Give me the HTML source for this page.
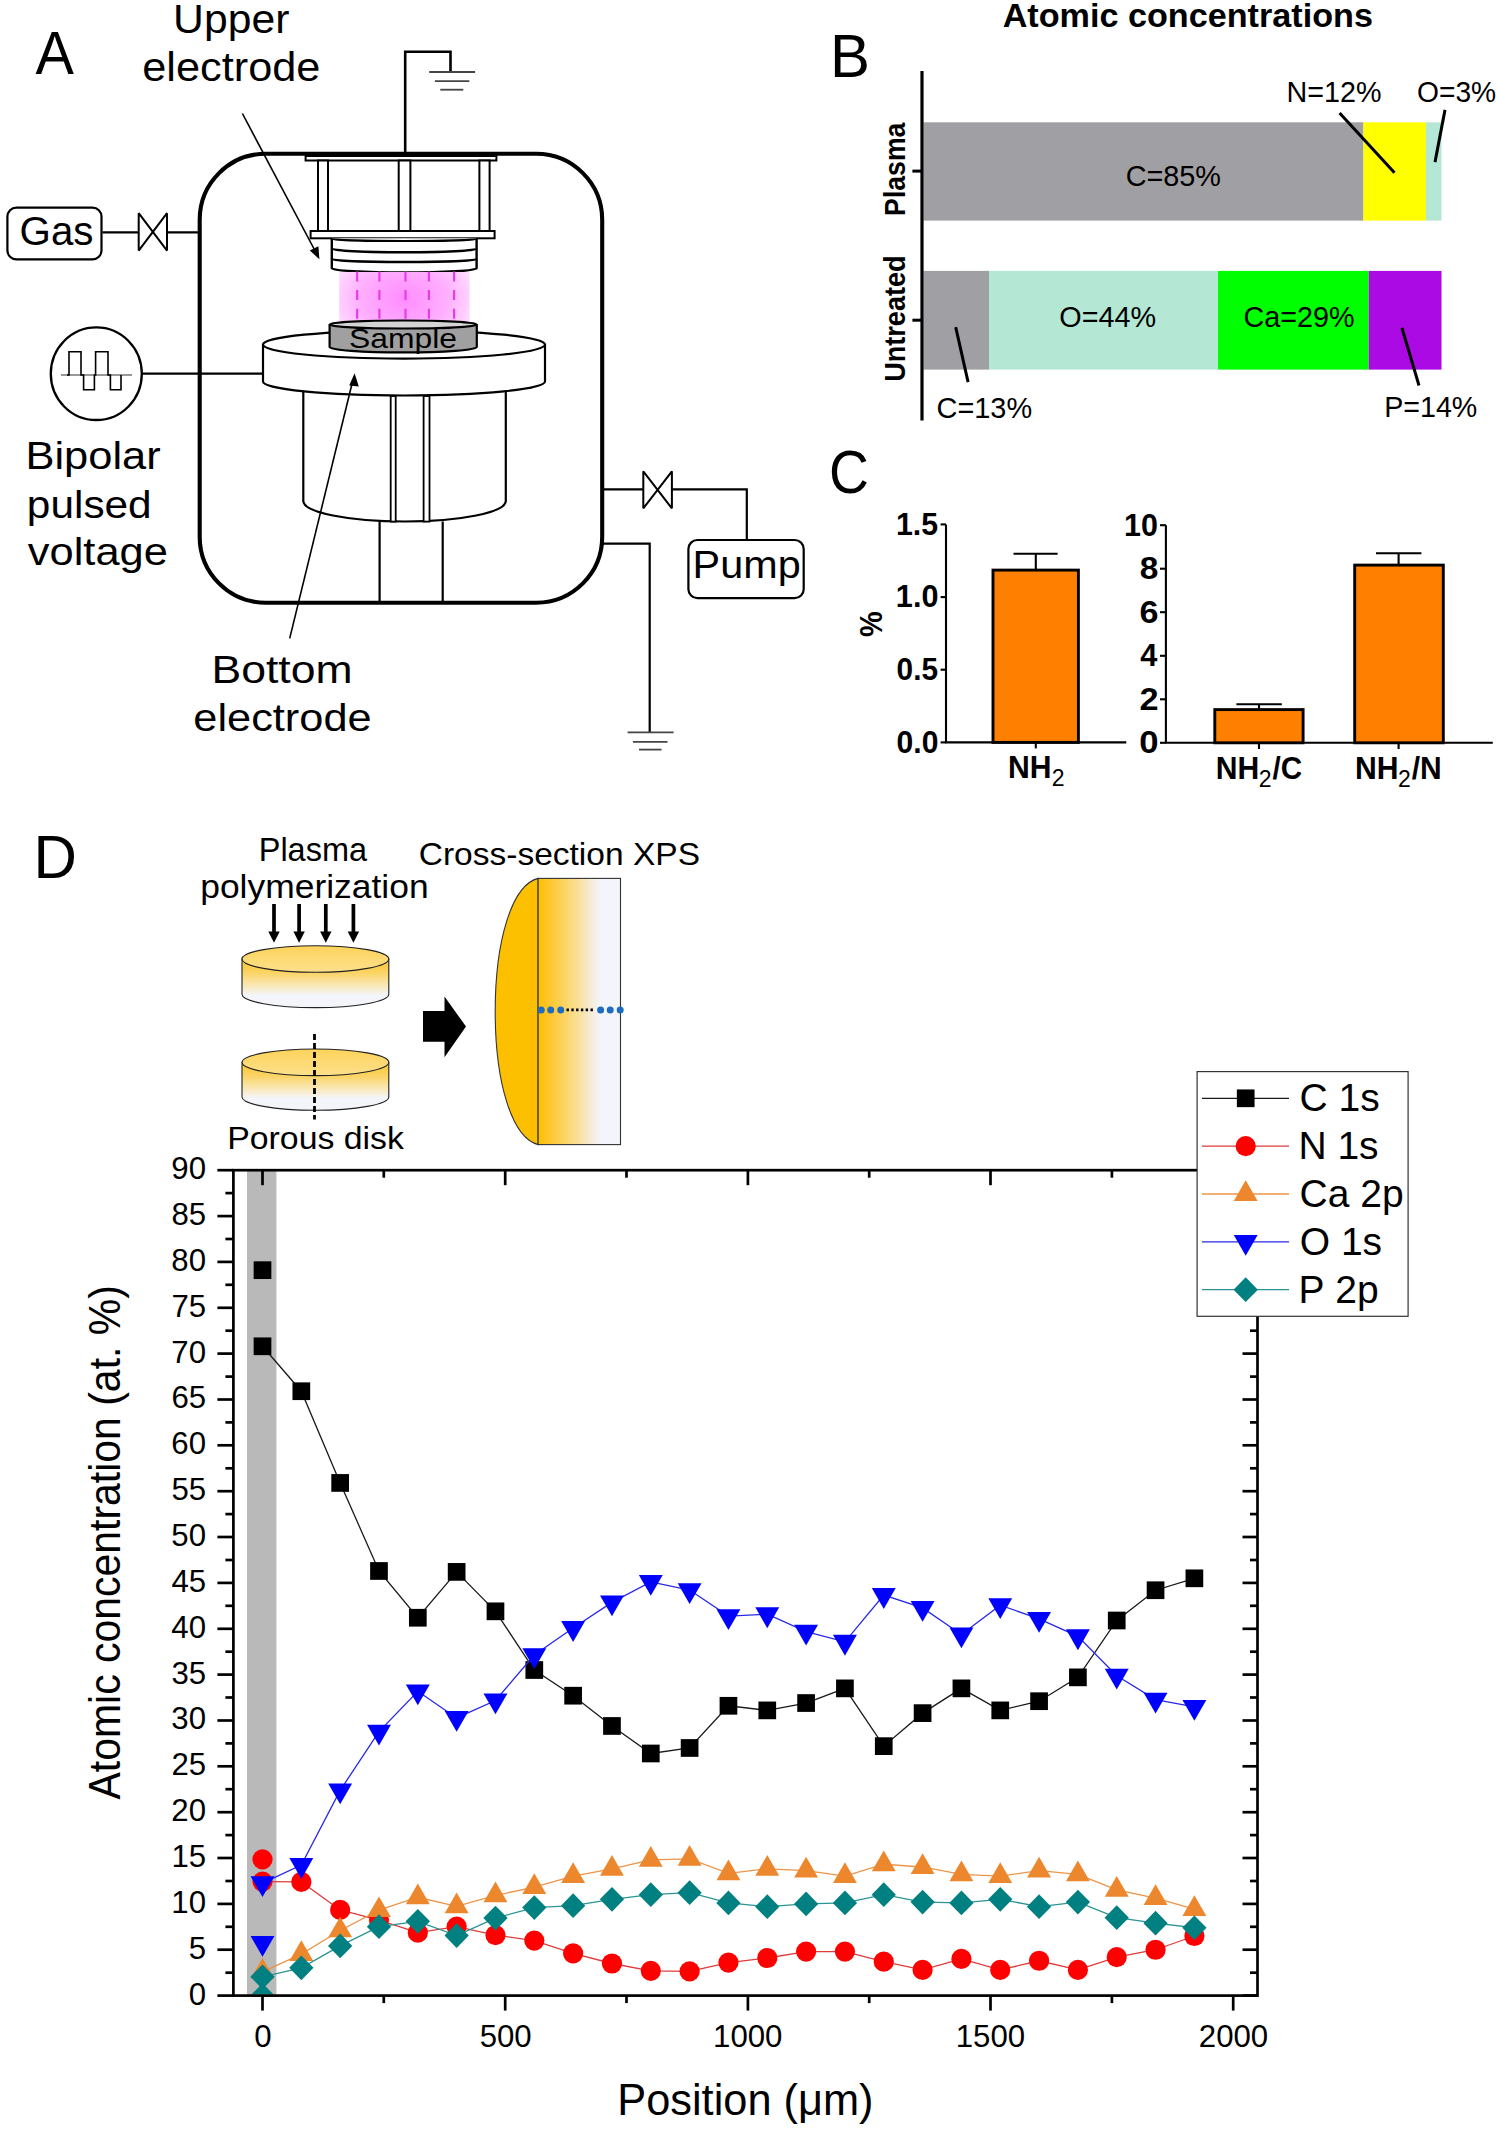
<!DOCTYPE html><html><head><meta charset="utf-8"><style>html,body{margin:0;padding:0;background:#fff;overflow:hidden;}svg{display:block;} text{font-kerning:none;}</style></head><body>
<svg width="1499" height="2131" viewBox="0 0 1499 2131">
<defs>
<radialGradient id="plasma" cx="403.7" cy="298.5" r="75" gradientUnits="userSpaceOnUse" gradientTransform="translate(403.7 298.5) scale(1 0.75) translate(-403.7 -298.5)">
<stop offset="0" stop-color="#ff8cff"/><stop offset="0.6" stop-color="#ffb0ff"/><stop offset="1" stop-color="#ffe0ff"/></radialGradient>
<linearGradient id="diskside" x1="0" y1="0" x2="0" y2="1">
<stop offset="0" stop-color="#fbc52a"/><stop offset="0.3" stop-color="#fbd56a"/><stop offset="0.55" stop-color="#f9e8b8"/><stop offset="0.75" stop-color="#f4f5fa"/><stop offset="1" stop-color="#f4f5fa"/></linearGradient>
<linearGradient id="disktop" x1="0" y1="0" x2="0" y2="1">
<stop offset="0" stop-color="#fcd35a"/><stop offset="1" stop-color="#fde08c"/></linearGradient>
<linearGradient id="xsec" x1="0" y1="0" x2="1" y2="0">
<stop offset="0" stop-color="#fdc000"/><stop offset="0.12" stop-color="#fdc52a"/><stop offset="0.3" stop-color="#fbd35c"/><stop offset="0.5" stop-color="#f8e19c"/><stop offset="0.62" stop-color="#f6ead0"/><stop offset="0.75" stop-color="#f4f5fa"/><stop offset="1" stop-color="#f4f5fa"/></linearGradient>
<clipPath id="plotclip"><rect x="234.7" y="1171.5" width="1021.5" height="822.8"/></clipPath>
</defs>
<text x="0" y="0" font-size="61.05" font-weight="400" fill="#000" font-family="'Liberation Sans', sans-serif" transform="translate(35.49 74.00) scale(0.9437 1)">A</text>
<text x="0" y="0" font-size="40.12" font-weight="400" fill="#000" font-family="'Liberation Sans', sans-serif" transform="translate(173.11 33.10) scale(1.0644 1)">Upper</text>
<text x="0" y="0" font-size="40.12" font-weight="400" fill="#000" font-family="'Liberation Sans', sans-serif" transform="translate(142.26 80.90) scale(1.0796 1)">electrode</text>
<path d="M405.2,153 V51.7 H450.5 V72" fill="none" stroke="#000" stroke-width="2.6"/>
<line x1="429.2" y1="72.0" x2="475.1" y2="72.0" stroke="#444" stroke-width="1.8" />
<line x1="434.9" y1="81.1" x2="469.3" y2="81.1" stroke="#444" stroke-width="1.8" />
<line x1="440.3" y1="89.7" x2="463.3" y2="89.7" stroke="#444" stroke-width="1.8" />
<rect x="7.4" y="207.6" width="94.1" height="51.8" rx="9" ry="9" fill="#fff" stroke="#000" stroke-width="2.2"/>
<text x="0" y="0" font-size="39.83" font-weight="400" fill="#000" font-family="'Liberation Sans', sans-serif" transform="translate(19.57 245.00) scale(1.0115 1)">Gas</text>
<line x1="102.5" y1="232.4" x2="138.7" y2="232.4" stroke="#000" stroke-width="2.2" />
<path d="M138.7,213.2 L167,250.6 L167,213.2 L138.7,250.6 Z" fill="#fff" stroke="#000" stroke-width="2" stroke-linejoin="bevel"/>
<line x1="167.0" y1="232.4" x2="200.0" y2="232.4" stroke="#000" stroke-width="2.2" />
<ellipse cx="96.3" cy="373.7" rx="45.5" ry="46.3" fill="#fff" stroke="#000" stroke-width="2.3"/>
<line x1="61.0" y1="375.0" x2="132.0" y2="375.0" stroke="#333" stroke-width="1.2" />
<path d="M67,375 H69 V351.7 H81 V375 H83.6 V389.7 H94.4 V375 H95.6 V351.7 H108 V375 H110.4 V389.7 H121 V375" fill="none" stroke="#000" stroke-width="1.6"/>
<line x1="141.0" y1="373.7" x2="264.0" y2="373.7" stroke="#000" stroke-width="2.2" />
<text x="0" y="0" font-size="39.68" font-weight="400" fill="#000" font-family="'Liberation Sans', sans-serif" transform="translate(25.43 469.10) scale(1.0953 1)">Bipolar</text>
<text x="0" y="0" font-size="39.68" font-weight="400" fill="#000" font-family="'Liberation Sans', sans-serif" transform="translate(26.87 518.20) scale(1.0678 1)">pulsed</text>
<text x="0" y="0" font-size="39.68" font-weight="400" fill="#000" font-family="'Liberation Sans', sans-serif" transform="translate(27.85 565.20) scale(1.0948 1)">voltage</text>
<line x1="602.0" y1="489.4" x2="643.3" y2="489.4" stroke="#000" stroke-width="2.2" />
<path d="M643.3,471.3 L671.9,508.3 L671.9,471.3 L643.3,508.3 Z" fill="#fff" stroke="#000" stroke-width="2" stroke-linejoin="bevel"/>
<path d="M671.9,489.4 H746.8 V540" fill="none" stroke="#000" stroke-width="2.2"/>
<rect x="688.4" y="540" width="115.3" height="58.2" rx="9" ry="9" fill="#fff" stroke="#000" stroke-width="2.2"/>
<text x="0" y="0" font-size="39.53" font-weight="400" fill="#000" font-family="'Liberation Sans', sans-serif" transform="translate(692.60 578.20) scale(1.0470 1)">Pump</text>
<path d="M602,543.7 H649.7 V732.3" fill="none" stroke="#000" stroke-width="2.2"/>
<line x1="627.6" y1="732.3" x2="673.6" y2="732.3" stroke="#444" stroke-width="1.8" />
<line x1="632.9" y1="741.8" x2="667.5" y2="741.8" stroke="#444" stroke-width="1.8" />
<line x1="639.0" y1="749.6" x2="661.5" y2="749.6" stroke="#444" stroke-width="1.8" />
<rect x="199.7" y="153.8" width="402.5" height="448.9" rx="66" ry="66" fill="none" stroke="#000" stroke-width="4.1"/>
<rect x="305.6" y="156" width="190.8" height="4.5" fill="#fff" stroke="#000" stroke-width="2"/>
<rect x="318" y="160.5" width="10.0" height="70.5" fill="#fff" stroke="#000" stroke-width="2"/>
<rect x="398.7" y="160.5" width="11.7" height="70.5" fill="#fff" stroke="#000" stroke-width="2"/>
<rect x="479.4" y="160.5" width="10.2" height="70.5" fill="#fff" stroke="#000" stroke-width="2"/>
<rect x="310.6" y="231" width="184" height="7.3" fill="#fff" stroke="#000" stroke-width="2"/>
<path d="M331.8,238.3 V268.3 A72.4,4.2 0 0 0 476.6,268.3 V238.3" fill="#fff" stroke="#000" stroke-width="2.4"/>
<path d="M332,238.9 A72.3,2.1 0 0 0 476.6,238.9" fill="none" stroke="#000" stroke-width="2.2"/>
<path d="M332,248.7 A72.3,3.5 0 0 0 476.6,248.7" fill="none" stroke="#000" stroke-width="2.4"/>
<path d="M332,259.2 A72.3,2.8 0 0 0 476.6,259.2" fill="none" stroke="#000" stroke-width="2.4"/>
<rect x="339.2" y="272" width="130.3" height="49" fill="url(#plasma)"/>
<line x1="357.2" y1="271.5" x2="357.2" y2="321.0" stroke="#e63ce6" stroke-width="2.2" stroke-dasharray="10 8.6"/>
<line x1="379.4" y1="271.5" x2="379.4" y2="321.0" stroke="#e63ce6" stroke-width="2.2" stroke-dasharray="10 8.6"/>
<line x1="405.5" y1="271.5" x2="405.5" y2="321.0" stroke="#e63ce6" stroke-width="2.2" stroke-dasharray="10 8.6"/>
<line x1="428.9" y1="271.5" x2="428.9" y2="321.0" stroke="#e63ce6" stroke-width="2.2" stroke-dasharray="10 8.6"/>
<line x1="454.1" y1="271.5" x2="454.1" y2="321.0" stroke="#e63ce6" stroke-width="2.2" stroke-dasharray="10 8.6"/>
<path d="M303.3,390 V501 A101.25,20.5 0 0 0 505.8,501 V390" fill="#fff" stroke="#000" stroke-width="2.2"/>
<rect x="390.7" y="396" width="5.0" height="125.6" fill="#fff" stroke="#000" stroke-width="1.8"/>
<rect x="423.6" y="396" width="5.9" height="125.6" fill="#fff" stroke="#000" stroke-width="1.8"/>
<line x1="379.6" y1="521.5" x2="379.6" y2="604.0" stroke="#000" stroke-width="2.2" />
<line x1="442.7" y1="521.5" x2="442.7" y2="604.0" stroke="#000" stroke-width="2.2" />
<path d="M263,344.6 V381.5 A141,14 0 0 0 545,381.5 V344.6" fill="#fff" stroke="#000" stroke-width="2.2"/>
<ellipse cx="404" cy="344.6" rx="141" ry="14" fill="#fff" stroke="#000" stroke-width="2.2"/>
<path d="M329.6,324.5 V347 A73.6,5.4 0 0 0 476.8,347 V324.5" fill="#a0a0a0" stroke="#000" stroke-width="2.2"/>
<ellipse cx="403.2" cy="324.5" rx="73.6" ry="4" fill="#d4d4d4" stroke="#000" stroke-width="2.2"/>
<text x="0" y="0" font-size="27.91" font-weight="400" fill="#000" font-family="'Liberation Sans', sans-serif" transform="translate(348.95 347.80) scale(1.1410 1)">Sample</text>
<line x1="242.4" y1="113.5" x2="316.5" y2="253.5" stroke="#000" stroke-width="1.6" />
<path d="M319.4,259.2 L309.8,250.6 L318.4,246.2 Z" fill="#000"/>
<line x1="289.7" y1="638.4" x2="352.8" y2="380.5" stroke="#000" stroke-width="1.6" />
<path d="M354.6,373.3 L349.2,385.5 L358.8,386.6 Z" fill="#000"/>
<text x="0" y="0" font-size="39.68" font-weight="400" fill="#000" font-family="'Liberation Sans', sans-serif" transform="translate(211.55 682.50) scale(1.1224 1)">Bottom</text>
<text x="0" y="0" font-size="39.68" font-weight="400" fill="#000" font-family="'Liberation Sans', sans-serif" transform="translate(193.36 730.50) scale(1.0921 1)">electrode</text>
<text x="0" y="0" font-size="32.99" font-weight="700" fill="#000" font-family="'Liberation Sans', sans-serif" transform="translate(1002.65 27.20) scale(1.0363 1)">Atomic concentrations</text>
<text x="0" y="0" font-size="61.77" font-weight="400" fill="#000" font-family="'Liberation Sans', sans-serif" transform="translate(830.08 76.50) scale(0.9703 1)">B</text>
<rect x="923.5" y="122.3" width="440" height="98.3" fill="#a09fa4"/>
<rect x="1363.4" y="122.3" width="62.5" height="98.3" fill="#ffff00"/>
<rect x="1425.9" y="122.3" width="15.6" height="98.3" fill="#b4e8d4"/>
<rect x="923.5" y="270.9" width="65.5" height="98.7" fill="#a09fa4"/>
<rect x="989" y="270.9" width="229" height="98.7" fill="#b4e8d4"/>
<rect x="1218" y="270.9" width="150.8" height="98.7" fill="#00ff00"/>
<rect x="1368.8" y="270.9" width="72.7" height="98.7" fill="#ab0ae4"/>
<line x1="922.0" y1="71.0" x2="922.0" y2="420.4" stroke="#000" stroke-width="3.2" />
<line x1="912.4" y1="171.1" x2="922.0" y2="171.1" stroke="#000" stroke-width="3" />
<line x1="912.4" y1="320.2" x2="922.0" y2="320.2" stroke="#000" stroke-width="3" />
<text x="0" y="0" font-size="29.07" font-weight="700" fill="#000" font-family="'Liberation Sans', sans-serif" transform="translate(905.00 215.88) rotate(-90) scale(0.9165 1)">Plasma</text>
<text x="0" y="0" font-size="29.07" font-weight="700" fill="#000" font-family="'Liberation Sans', sans-serif" transform="translate(905.00 381.83) rotate(-90) scale(0.9324 1)">Untreated</text>
<text x="0" y="0" font-size="29.36" font-weight="400" fill="#000" font-family="'Liberation Sans', sans-serif" transform="translate(1125.64 185.70) scale(0.9823 1)">C=85%</text>
<text x="0" y="0" font-size="29.07" font-weight="400" fill="#000" font-family="'Liberation Sans', sans-serif" transform="translate(1286.44 101.90) scale(0.9889 1)">N=12%</text>
<text x="0" y="0" font-size="29.07" font-weight="400" fill="#000" font-family="'Liberation Sans', sans-serif" transform="translate(1417.06 101.90) scale(0.9698 1)">O=3%</text>
<text x="0" y="0" font-size="29.07" font-weight="400" fill="#000" font-family="'Liberation Sans', sans-serif" transform="translate(1059.34 327.20) scale(0.9910 1)">O=44%</text>
<text x="0" y="0" font-size="29.07" font-weight="400" fill="#000" font-family="'Liberation Sans', sans-serif" transform="translate(1243.44 326.60) scale(0.9899 1)">Ca=29%</text>
<text x="0" y="0" font-size="29.07" font-weight="400" fill="#000" font-family="'Liberation Sans', sans-serif" transform="translate(936.53 418.20) scale(0.9942 1)">C=13%</text>
<text x="0" y="0" font-size="29.07" font-weight="400" fill="#000" font-family="'Liberation Sans', sans-serif" transform="translate(1384.15 417.40) scale(0.9854 1)">P=14%</text>
<line x1="1339.6" y1="112.9" x2="1394.5" y2="172.7" stroke="#000" stroke-width="3" />
<line x1="1445.0" y1="109.9" x2="1435.0" y2="162.1" stroke="#000" stroke-width="3" />
<line x1="955.7" y1="327.2" x2="968.1" y2="382.2" stroke="#000" stroke-width="3" />
<line x1="1401.9" y1="327.7" x2="1419.0" y2="385.5" stroke="#000" stroke-width="3" />
<text x="0" y="0" font-size="61.63" font-weight="400" fill="#000" font-family="'Liberation Sans', sans-serif" transform="translate(828.99 493.10) scale(0.8968 1)">C</text>
<path d="M946,524.4 V742.4 H1126.3" fill="none" stroke="#000" stroke-width="2.1"/>
<line x1="940.6" y1="524.4" x2="946.0" y2="524.4" stroke="#000" stroke-width="2.1" />
<line x1="940.6" y1="597.1" x2="946.0" y2="597.1" stroke="#000" stroke-width="2.1" />
<line x1="940.6" y1="669.7" x2="946.0" y2="669.7" stroke="#000" stroke-width="2.1" />
<line x1="940.6" y1="742.4" x2="946.0" y2="742.4" stroke="#000" stroke-width="2.1" />
<text x="0" y="0" font-size="31.40" font-weight="700" fill="#000" font-family="'Liberation Sans', sans-serif" transform="translate(895.89 534.60) scale(0.9659 1)">1.5</text>
<text x="0" y="0" font-size="31.40" font-weight="700" fill="#000" font-family="'Liberation Sans', sans-serif" transform="translate(895.87 607.30) scale(0.9758 1)">1.0</text>
<text x="0" y="0" font-size="31.40" font-weight="700" fill="#000" font-family="'Liberation Sans', sans-serif" transform="translate(896.62 679.90) scale(0.9488 1)">0.5</text>
<text x="0" y="0" font-size="31.40" font-weight="700" fill="#000" font-family="'Liberation Sans', sans-serif" transform="translate(896.61 752.60) scale(0.9583 1)">0.0</text>
<rect x="993" y="570.1" width="85.4" height="172.3" fill="#ff8000" stroke="#000" stroke-width="2.9"/>
<line x1="1035.8" y1="570.0" x2="1035.8" y2="553.8" stroke="#000" stroke-width="2.1" />
<line x1="1013.5" y1="553.8" x2="1057.6" y2="553.8" stroke="#000" stroke-width="2.1" />
<line x1="1035.8" y1="742.4" x2="1035.8" y2="748.4" stroke="#000" stroke-width="2.1" />
<text x="0" y="0" font-size="30.96" font-weight="700" fill="#000" font-family="'Liberation Sans', sans-serif" transform="translate(1007.98 778.30) scale(0.9739 1)">NH</text>
<text x="0" y="0" font-size="23.11" font-weight="400" fill="#000" font-family="'Liberation Sans', sans-serif" transform="translate(1051.84 786.20) scale(0.9973 1)">2</text>
<text x="0" y="0" font-size="30.52" font-weight="700" fill="#000" font-family="'Liberation Sans', sans-serif" transform="translate(881.60 637.12) rotate(-90) scale(0.9462 1)">%</text>
<path d="M1165.9,525.2 V742.8 H1492.8" fill="none" stroke="#000" stroke-width="2.1"/>
<line x1="1160.0" y1="525.2" x2="1165.9" y2="525.2" stroke="#000" stroke-width="2.1" />
<text x="0" y="0" font-size="31.40" font-weight="700" fill="#000" font-family="'Liberation Sans', sans-serif" transform="translate(1123.98 535.50) scale(0.9698 1)">10</text>
<line x1="1160.0" y1="568.7" x2="1165.9" y2="568.7" stroke="#000" stroke-width="2.1" />
<text x="0" y="0" font-size="31.40" font-weight="700" fill="#000" font-family="'Liberation Sans', sans-serif" transform="translate(1139.64 579.02) scale(1.0646 1)">8</text>
<line x1="1160.0" y1="612.2" x2="1165.9" y2="612.2" stroke="#000" stroke-width="2.1" />
<text x="0" y="0" font-size="31.40" font-weight="700" fill="#000" font-family="'Liberation Sans', sans-serif" transform="translate(1139.45 622.54) scale(1.0872 1)">6</text>
<line x1="1160.0" y1="655.8" x2="1165.9" y2="655.8" stroke="#000" stroke-width="2.1" />
<text x="0" y="0" font-size="31.40" font-weight="700" fill="#000" font-family="'Liberation Sans', sans-serif" transform="translate(1140.23 666.06) scale(0.9812 1)">4</text>
<line x1="1160.0" y1="699.3" x2="1165.9" y2="699.3" stroke="#000" stroke-width="2.1" />
<text x="0" y="0" font-size="31.40" font-weight="700" fill="#000" font-family="'Liberation Sans', sans-serif" transform="translate(1139.51 709.58) scale(1.0916 1)">2</text>
<line x1="1160.0" y1="742.8" x2="1165.9" y2="742.8" stroke="#000" stroke-width="2.1" />
<text x="0" y="0" font-size="31.40" font-weight="700" fill="#000" font-family="'Liberation Sans', sans-serif" transform="translate(1139.33 753.10) scale(1.1051 1)">0</text>
<rect x="1214.8" y="709.6" width="88.3" height="33.2" fill="#ff8000" stroke="#000" stroke-width="2.9"/>
<line x1="1259.0" y1="709.6" x2="1259.0" y2="704.2" stroke="#000" stroke-width="2.1" />
<line x1="1236.4" y1="704.2" x2="1281.8" y2="704.2" stroke="#000" stroke-width="2.1" />
<rect x="1354.7" y="565.1" width="88.6" height="177.7" fill="#ff8000" stroke="#000" stroke-width="2.9"/>
<line x1="1398.6" y1="565.0" x2="1398.6" y2="553.2" stroke="#000" stroke-width="2.1" />
<line x1="1376.0" y1="553.2" x2="1421.4" y2="553.2" stroke="#000" stroke-width="2.1" />
<line x1="1259.0" y1="742.8" x2="1259.0" y2="749.0" stroke="#000" stroke-width="2.1" />
<line x1="1398.6" y1="742.8" x2="1398.6" y2="749.0" stroke="#000" stroke-width="2.1" />
<text x="0" y="0" font-size="30.96" font-weight="700" fill="#000" font-family="'Liberation Sans', sans-serif" transform="translate(1215.68 779.30) scale(0.9739 1)">NH</text>
<text x="0" y="0" font-size="23.11" font-weight="400" fill="#000" font-family="'Liberation Sans', sans-serif" transform="translate(1258.64 787.20) scale(0.9973 1)">2</text>
<text x="0" y="0" font-size="30.96" font-weight="700" fill="#000" font-family="'Liberation Sans', sans-serif" transform="translate(1272.51 779.30) scale(0.9560 1)">/C</text>
<text x="0" y="0" font-size="30.96" font-weight="700" fill="#000" font-family="'Liberation Sans', sans-serif" transform="translate(1354.98 779.30) scale(0.9739 1)">NH</text>
<text x="0" y="0" font-size="23.11" font-weight="400" fill="#000" font-family="'Liberation Sans', sans-serif" transform="translate(1398.04 787.20) scale(0.9973 1)">2</text>
<text x="0" y="0" font-size="30.96" font-weight="700" fill="#000" font-family="'Liberation Sans', sans-serif" transform="translate(1411.71 779.30) scale(0.9695 1)">/N</text>
<text x="0" y="0" font-size="61.05" font-weight="400" fill="#000" font-family="'Liberation Sans', sans-serif" transform="translate(33.47 878.20) scale(0.9846 1)">D</text>
<text x="0" y="0" font-size="32.85" font-weight="400" fill="#000" font-family="'Liberation Sans', sans-serif" transform="translate(258.73 860.90) scale(0.9893 1)">Plasma</text>
<text x="0" y="0" font-size="32.85" font-weight="400" fill="#000" font-family="'Liberation Sans', sans-serif" transform="translate(200.21 898.40) scale(1.0793 1)">polymerization</text>
<text x="0" y="0" font-size="31.98" font-weight="400" fill="#000" font-family="'Liberation Sans', sans-serif" transform="translate(418.70 865.40) scale(1.0488 1)">Cross-section XPS</text>
<text x="0" y="0" font-size="31.98" font-weight="400" fill="#000" font-family="'Liberation Sans', sans-serif" transform="translate(227.22 1149.00) scale(1.0584 1)">Porous disk</text>
<rect x="272.15" y="904" width="3.7" height="28" fill="#000"/>
<path d="M268.30,931.4 L279.70,931.4 L274.00,942.7 Z" fill="#000"/>
<rect x="297.25" y="904" width="3.7" height="28" fill="#000"/>
<path d="M293.40,931.4 L304.80,931.4 L299.10,942.7 Z" fill="#000"/>
<rect x="323.95" y="904" width="3.7" height="28" fill="#000"/>
<path d="M320.10,931.4 L331.50,931.4 L325.80,942.7 Z" fill="#000"/>
<rect x="351.55" y="904" width="3.7" height="28" fill="#000"/>
<path d="M347.70,931.4 L359.10,931.4 L353.40,942.7 Z" fill="#000"/>
<path d="M242.0,959.0 V994.3 A73.4,13.3 0 0 0 388.8,994.3 V959.0 Z" fill="url(#diskside)" stroke="#222" stroke-width="1.1"/>
<ellipse cx="315.4" cy="959" rx="73.4" ry="13.3" fill="url(#disktop)" stroke="#222" stroke-width="1.1"/>
<path d="M242.0,1062.3 V1097.0 A73.4,13.3 0 0 0 388.8,1097.0 V1062.3 Z" fill="url(#diskside)" stroke="#222" stroke-width="1.1"/>
<ellipse cx="315.4" cy="1062.3" rx="73.4" ry="13.3" fill="url(#disktop)" stroke="#222" stroke-width="1.1"/>
<line x1="314.5" y1="1034.1" x2="314.5" y2="1119.5" stroke="#000" stroke-width="2.8" stroke-dasharray="6 3"/>
<path d="M423,1011.1 H444.5 V996.6 L466,1026.5 L444.5,1057.2 V1041.8 H423 Z" fill="#000"/>
<path d="M538.1,878.4 C512,885 495.2,940 495.2,1011.5 C495.2,1083 512,1138 538.1,1144.6 Z" fill="#fdc000" stroke="#333" stroke-width="1.1"/>
<rect x="538.1" y="878.4" width="82.4" height="266.2" fill="url(#xsec)" stroke="#333" stroke-width="1.1"/>
<line x1="566.5" y1="1009.9" x2="593.0" y2="1009.9" stroke="#000" stroke-width="2.6" stroke-dasharray="2.4 2.4"/>
<circle cx="541.2" cy="1009.9" r="3.5" fill="#1e6bc0"/>
<circle cx="550.7" cy="1009.9" r="3.5" fill="#1e6bc0"/>
<circle cx="560.7" cy="1009.9" r="3.5" fill="#1e6bc0"/>
<circle cx="600.6" cy="1009.9" r="3.5" fill="#1e6bc0"/>
<circle cx="610.2" cy="1009.9" r="3.5" fill="#1e6bc0"/>
<circle cx="620.2" cy="1009.9" r="3.5" fill="#1e6bc0"/>
<rect x="247" y="1170.2" width="29.4" height="825.4" fill="#b9b9b9"/>
<g clip-path="url(#plotclip)">
<polyline points="262.50,1346.29 301.33,1391.22 340.16,1482.93 378.99,1570.98 417.82,1617.75 456.64,1571.89 495.47,1611.33 534.30,1670.03 573.13,1695.70 611.96,1725.97 650.79,1753.48 689.62,1747.98 728.45,1705.79 767.27,1710.38 806.10,1703.04 844.93,1688.37 883.76,1746.15 922.59,1713.13 961.42,1688.37 1000.25,1710.38 1039.08,1701.21 1077.90,1677.36 1116.73,1620.50 1155.56,1590.24 1194.39,1578.31" fill="none" stroke="#1a1a1a" stroke-width="1.3"/>
<rect x="253.65" y="1337.44" width="17.7" height="17.7" fill="#000000"/>
<rect x="292.48" y="1382.37" width="17.7" height="17.7" fill="#000000"/>
<rect x="331.31" y="1474.08" width="17.7" height="17.7" fill="#000000"/>
<rect x="370.14" y="1562.13" width="17.7" height="17.7" fill="#000000"/>
<rect x="408.97" y="1608.90" width="17.7" height="17.7" fill="#000000"/>
<rect x="447.79" y="1563.04" width="17.7" height="17.7" fill="#000000"/>
<rect x="486.62" y="1602.48" width="17.7" height="17.7" fill="#000000"/>
<rect x="525.45" y="1661.18" width="17.7" height="17.7" fill="#000000"/>
<rect x="564.28" y="1686.85" width="17.7" height="17.7" fill="#000000"/>
<rect x="603.11" y="1717.12" width="17.7" height="17.7" fill="#000000"/>
<rect x="641.94" y="1744.63" width="17.7" height="17.7" fill="#000000"/>
<rect x="680.77" y="1739.13" width="17.7" height="17.7" fill="#000000"/>
<rect x="719.60" y="1696.94" width="17.7" height="17.7" fill="#000000"/>
<rect x="758.42" y="1701.53" width="17.7" height="17.7" fill="#000000"/>
<rect x="797.25" y="1694.19" width="17.7" height="17.7" fill="#000000"/>
<rect x="836.08" y="1679.52" width="17.7" height="17.7" fill="#000000"/>
<rect x="874.91" y="1737.30" width="17.7" height="17.7" fill="#000000"/>
<rect x="913.74" y="1704.28" width="17.7" height="17.7" fill="#000000"/>
<rect x="952.57" y="1679.52" width="17.7" height="17.7" fill="#000000"/>
<rect x="991.40" y="1701.53" width="17.7" height="17.7" fill="#000000"/>
<rect x="1030.23" y="1692.36" width="17.7" height="17.7" fill="#000000"/>
<rect x="1069.05" y="1668.51" width="17.7" height="17.7" fill="#000000"/>
<rect x="1107.88" y="1611.65" width="17.7" height="17.7" fill="#000000"/>
<rect x="1146.71" y="1581.39" width="17.7" height="17.7" fill="#000000"/>
<rect x="1185.54" y="1569.46" width="17.7" height="17.7" fill="#000000"/>
<rect x="253.65" y="1261.32" width="17.7" height="17.7" fill="#000000"/>
<polyline points="262.50,1881.60 301.33,1881.88 340.16,1909.94 378.99,1920.03 417.82,1932.69 456.64,1926.54 495.47,1935.07 534.30,1940.57 573.13,1953.41 611.96,1963.50 650.79,1970.84 689.62,1971.39 728.45,1962.58 767.27,1958.00 806.10,1951.58 844.93,1951.58 883.76,1961.67 922.59,1969.92 961.42,1958.92 1000.25,1969.92 1039.08,1960.75 1077.90,1969.92 1116.73,1957.08 1155.56,1949.74 1194.39,1935.99" fill="none" stroke="#e03a3a" stroke-width="1.3"/>
<circle cx="262.50" cy="1881.60" r="10.1" fill="#ff0000"/>
<circle cx="301.33" cy="1881.88" r="10.1" fill="#ff0000"/>
<circle cx="340.16" cy="1909.94" r="10.1" fill="#ff0000"/>
<circle cx="378.99" cy="1920.03" r="10.1" fill="#ff0000"/>
<circle cx="417.82" cy="1932.69" r="10.1" fill="#ff0000"/>
<circle cx="456.64" cy="1926.54" r="10.1" fill="#ff0000"/>
<circle cx="495.47" cy="1935.07" r="10.1" fill="#ff0000"/>
<circle cx="534.30" cy="1940.57" r="10.1" fill="#ff0000"/>
<circle cx="573.13" cy="1953.41" r="10.1" fill="#ff0000"/>
<circle cx="611.96" cy="1963.50" r="10.1" fill="#ff0000"/>
<circle cx="650.79" cy="1970.84" r="10.1" fill="#ff0000"/>
<circle cx="689.62" cy="1971.39" r="10.1" fill="#ff0000"/>
<circle cx="728.45" cy="1962.58" r="10.1" fill="#ff0000"/>
<circle cx="767.27" cy="1958.00" r="10.1" fill="#ff0000"/>
<circle cx="806.10" cy="1951.58" r="10.1" fill="#ff0000"/>
<circle cx="844.93" cy="1951.58" r="10.1" fill="#ff0000"/>
<circle cx="883.76" cy="1961.67" r="10.1" fill="#ff0000"/>
<circle cx="922.59" cy="1969.92" r="10.1" fill="#ff0000"/>
<circle cx="961.42" cy="1958.92" r="10.1" fill="#ff0000"/>
<circle cx="1000.25" cy="1969.92" r="10.1" fill="#ff0000"/>
<circle cx="1039.08" cy="1960.75" r="10.1" fill="#ff0000"/>
<circle cx="1077.90" cy="1969.92" r="10.1" fill="#ff0000"/>
<circle cx="1116.73" cy="1957.08" r="10.1" fill="#ff0000"/>
<circle cx="1155.56" cy="1949.74" r="10.1" fill="#ff0000"/>
<circle cx="1194.39" cy="1935.99" r="10.1" fill="#ff0000"/>
<circle cx="262.50" cy="1859.41" r="10.1" fill="#ff0000"/>
<polyline points="262.50,1971.81 301.33,1954.11 340.16,1930.45 378.99,1910.18 417.82,1897.25 456.64,1906.42 495.47,1895.41 534.30,1887.16 573.13,1876.16 611.96,1868.82 650.79,1859.83 689.62,1858.82 728.45,1873.40 767.27,1868.82 806.10,1870.65 844.93,1876.16 883.76,1864.23 922.59,1866.98 961.42,1874.32 1000.25,1876.16 1039.08,1870.65 1077.90,1874.32 1116.73,1889.91 1155.56,1898.17 1194.39,1909.17" fill="none" stroke="#ee9448" stroke-width="1.3"/>
<path d="M262.50,1958.01 L274.45,1978.71 L250.55,1978.71 Z" fill="#ed872d"/>
<path d="M301.33,1940.31 L313.28,1961.01 L289.38,1961.01 Z" fill="#ed872d"/>
<path d="M340.16,1916.65 L352.11,1937.35 L328.21,1937.35 Z" fill="#ed872d"/>
<path d="M378.99,1896.38 L390.94,1917.08 L367.04,1917.08 Z" fill="#ed872d"/>
<path d="M417.82,1883.45 L429.77,1904.15 L405.87,1904.15 Z" fill="#ed872d"/>
<path d="M456.64,1892.62 L468.59,1913.32 L444.69,1913.32 Z" fill="#ed872d"/>
<path d="M495.47,1881.61 L507.42,1902.31 L483.52,1902.31 Z" fill="#ed872d"/>
<path d="M534.30,1873.36 L546.25,1894.06 L522.35,1894.06 Z" fill="#ed872d"/>
<path d="M573.13,1862.36 L585.08,1883.06 L561.18,1883.06 Z" fill="#ed872d"/>
<path d="M611.96,1855.02 L623.91,1875.72 L600.01,1875.72 Z" fill="#ed872d"/>
<path d="M650.79,1846.03 L662.74,1866.73 L638.84,1866.73 Z" fill="#ed872d"/>
<path d="M689.62,1845.02 L701.57,1865.72 L677.67,1865.72 Z" fill="#ed872d"/>
<path d="M728.45,1859.60 L740.40,1880.30 L716.50,1880.30 Z" fill="#ed872d"/>
<path d="M767.27,1855.02 L779.22,1875.72 L755.32,1875.72 Z" fill="#ed872d"/>
<path d="M806.10,1856.85 L818.05,1877.55 L794.15,1877.55 Z" fill="#ed872d"/>
<path d="M844.93,1862.36 L856.88,1883.06 L832.98,1883.06 Z" fill="#ed872d"/>
<path d="M883.76,1850.43 L895.71,1871.13 L871.81,1871.13 Z" fill="#ed872d"/>
<path d="M922.59,1853.18 L934.54,1873.88 L910.64,1873.88 Z" fill="#ed872d"/>
<path d="M961.42,1860.52 L973.37,1881.22 L949.47,1881.22 Z" fill="#ed872d"/>
<path d="M1000.25,1862.36 L1012.20,1883.06 L988.30,1883.06 Z" fill="#ed872d"/>
<path d="M1039.08,1856.85 L1051.03,1877.55 L1027.13,1877.55 Z" fill="#ed872d"/>
<path d="M1077.90,1860.52 L1089.85,1881.22 L1065.95,1881.22 Z" fill="#ed872d"/>
<path d="M1116.73,1876.11 L1128.68,1896.81 L1104.78,1896.81 Z" fill="#ed872d"/>
<path d="M1155.56,1884.37 L1167.51,1905.07 L1143.61,1905.07 Z" fill="#ed872d"/>
<path d="M1194.39,1895.37 L1206.34,1916.07 L1182.44,1916.07 Z" fill="#ed872d"/>
<polyline points="262.50,1883.18 301.33,1865.02 340.16,1790.37 378.99,1731.67 417.82,1691.32 456.64,1717.92 495.47,1700.49 534.30,1655.09 573.13,1628.04 611.96,1602.36 650.79,1581.82 689.62,1590.07 728.45,1616.12 767.27,1614.28 806.10,1631.71 844.93,1641.80 883.76,1595.02 922.59,1607.86 961.42,1634.46 1000.25,1605.11 1039.08,1618.87 1077.90,1636.29 1116.73,1675.73 1155.56,1699.57 1194.39,1706.91" fill="none" stroke="#2828e8" stroke-width="1.3"/>
<path d="M250.55,1876.25 L274.45,1876.25 L262.50,1897.05 Z" fill="#0000ff"/>
<path d="M289.38,1858.09 L313.28,1858.09 L301.33,1878.89 Z" fill="#0000ff"/>
<path d="M328.21,1783.44 L352.11,1783.44 L340.16,1804.24 Z" fill="#0000ff"/>
<path d="M367.04,1724.74 L390.94,1724.74 L378.99,1745.54 Z" fill="#0000ff"/>
<path d="M405.87,1684.39 L429.77,1684.39 L417.82,1705.19 Z" fill="#0000ff"/>
<path d="M444.69,1710.98 L468.59,1710.98 L456.64,1731.78 Z" fill="#0000ff"/>
<path d="M483.52,1693.56 L507.42,1693.56 L495.47,1714.36 Z" fill="#0000ff"/>
<path d="M522.35,1648.16 L546.25,1648.16 L534.30,1668.96 Z" fill="#0000ff"/>
<path d="M561.18,1621.11 L585.08,1621.11 L573.13,1641.91 Z" fill="#0000ff"/>
<path d="M600.01,1595.43 L623.91,1595.43 L611.96,1616.23 Z" fill="#0000ff"/>
<path d="M638.84,1574.88 L662.74,1574.88 L650.79,1595.68 Z" fill="#0000ff"/>
<path d="M677.67,1583.14 L701.57,1583.14 L689.62,1603.94 Z" fill="#0000ff"/>
<path d="M716.50,1609.18 L740.40,1609.18 L728.45,1629.98 Z" fill="#0000ff"/>
<path d="M755.32,1607.35 L779.22,1607.35 L767.27,1628.15 Z" fill="#0000ff"/>
<path d="M794.15,1624.78 L818.05,1624.78 L806.10,1645.58 Z" fill="#0000ff"/>
<path d="M832.98,1634.86 L856.88,1634.86 L844.93,1655.66 Z" fill="#0000ff"/>
<path d="M871.81,1588.09 L895.71,1588.09 L883.76,1608.89 Z" fill="#0000ff"/>
<path d="M910.64,1600.93 L934.54,1600.93 L922.59,1621.73 Z" fill="#0000ff"/>
<path d="M949.47,1627.53 L973.37,1627.53 L961.42,1648.33 Z" fill="#0000ff"/>
<path d="M988.30,1598.18 L1012.20,1598.18 L1000.25,1618.98 Z" fill="#0000ff"/>
<path d="M1027.13,1611.94 L1051.03,1611.94 L1039.08,1632.74 Z" fill="#0000ff"/>
<path d="M1065.95,1629.36 L1089.85,1629.36 L1077.90,1650.16 Z" fill="#0000ff"/>
<path d="M1104.78,1668.80 L1128.68,1668.80 L1116.73,1689.60 Z" fill="#0000ff"/>
<path d="M1143.61,1692.64 L1167.51,1692.64 L1155.56,1713.44 Z" fill="#0000ff"/>
<path d="M1182.44,1699.98 L1206.34,1699.98 L1194.39,1720.78 Z" fill="#0000ff"/>
<path d="M250.55,1936.04 L274.45,1936.04 L262.50,1956.84 Z" fill="#0000ff"/>
<polyline points="262.50,1976.80 301.33,1967.81 340.16,1945.89 378.99,1926.72 417.82,1921.31 456.64,1935.53 495.47,1918.10 534.30,1907.56 573.13,1905.72 611.96,1899.30 650.79,1894.63 689.62,1892.70 728.45,1902.97 767.27,1906.64 806.10,1903.89 844.93,1902.97 883.76,1894.72 922.59,1902.05 961.42,1902.97 1000.25,1899.30 1039.08,1906.64 1077.90,1902.05 1116.73,1917.65 1155.56,1923.15 1194.39,1927.73" fill="none" stroke="#2a9494" stroke-width="1.3"/>
<path d="M262.50,1964.45 L274.65,1976.80 L262.50,1989.15 L250.35,1976.80 Z" fill="#008080"/>
<path d="M301.33,1955.46 L313.48,1967.81 L301.33,1980.16 L289.18,1967.81 Z" fill="#008080"/>
<path d="M340.16,1933.54 L352.31,1945.89 L340.16,1958.24 L328.01,1945.89 Z" fill="#008080"/>
<path d="M378.99,1914.37 L391.14,1926.72 L378.99,1939.07 L366.84,1926.72 Z" fill="#008080"/>
<path d="M417.82,1908.96 L429.97,1921.31 L417.82,1933.66 L405.67,1921.31 Z" fill="#008080"/>
<path d="M456.64,1923.18 L468.79,1935.53 L456.64,1947.88 L444.49,1935.53 Z" fill="#008080"/>
<path d="M495.47,1905.75 L507.62,1918.10 L495.47,1930.45 L483.32,1918.10 Z" fill="#008080"/>
<path d="M534.30,1895.21 L546.45,1907.56 L534.30,1919.91 L522.15,1907.56 Z" fill="#008080"/>
<path d="M573.13,1893.37 L585.28,1905.72 L573.13,1918.07 L560.98,1905.72 Z" fill="#008080"/>
<path d="M611.96,1886.95 L624.11,1899.30 L611.96,1911.65 L599.81,1899.30 Z" fill="#008080"/>
<path d="M650.79,1882.28 L662.94,1894.63 L650.79,1906.98 L638.64,1894.63 Z" fill="#008080"/>
<path d="M689.62,1880.35 L701.77,1892.70 L689.62,1905.05 L677.47,1892.70 Z" fill="#008080"/>
<path d="M728.45,1890.62 L740.60,1902.97 L728.45,1915.32 L716.30,1902.97 Z" fill="#008080"/>
<path d="M767.27,1894.29 L779.42,1906.64 L767.27,1918.99 L755.12,1906.64 Z" fill="#008080"/>
<path d="M806.10,1891.54 L818.25,1903.89 L806.10,1916.24 L793.95,1903.89 Z" fill="#008080"/>
<path d="M844.93,1890.62 L857.08,1902.97 L844.93,1915.32 L832.78,1902.97 Z" fill="#008080"/>
<path d="M883.76,1882.37 L895.91,1894.72 L883.76,1907.07 L871.61,1894.72 Z" fill="#008080"/>
<path d="M922.59,1889.70 L934.74,1902.05 L922.59,1914.40 L910.44,1902.05 Z" fill="#008080"/>
<path d="M961.42,1890.62 L973.57,1902.97 L961.42,1915.32 L949.27,1902.97 Z" fill="#008080"/>
<path d="M1000.25,1886.95 L1012.40,1899.30 L1000.25,1911.65 L988.10,1899.30 Z" fill="#008080"/>
<path d="M1039.08,1894.29 L1051.23,1906.64 L1039.08,1918.99 L1026.93,1906.64 Z" fill="#008080"/>
<path d="M1077.90,1889.70 L1090.05,1902.05 L1077.90,1914.40 L1065.75,1902.05 Z" fill="#008080"/>
<path d="M1116.73,1905.30 L1128.88,1917.65 L1116.73,1930.00 L1104.58,1917.65 Z" fill="#008080"/>
<path d="M1155.56,1910.80 L1167.71,1923.15 L1155.56,1935.50 L1143.41,1923.15 Z" fill="#008080"/>
<path d="M1194.39,1915.38 L1206.54,1927.73 L1194.39,1940.08 L1182.24,1927.73 Z" fill="#008080"/>
<path d="M262.50,1983.25 L274.65,1995.60 L262.50,2007.95 L250.35,1995.60 Z" fill="#008080"/>
</g>
<rect x="233.4" y="1170.2" width="1024.1" height="825.4" fill="none" stroke="#000" stroke-width="2.7"/>
<line x1="217.4" y1="1995.6" x2="233.4" y2="1995.6" stroke="#000" stroke-width="2.7" />
<line x1="1242.5" y1="1995.6" x2="1257.5" y2="1995.6" stroke="#000" stroke-width="2.7" />
<text x="0" y="0" font-size="31.20" font-weight="400" fill="#000" font-family="'Liberation Sans', sans-serif" transform="translate(188.67 2004.60) scale(1.0000 1)">0</text>
<line x1="225.4" y1="1972.7" x2="233.4" y2="1972.7" stroke="#000" stroke-width="2.7" />
<line x1="1250.0" y1="1972.7" x2="1257.5" y2="1972.7" stroke="#000" stroke-width="2.7" />
<line x1="217.4" y1="1949.7" x2="233.4" y2="1949.7" stroke="#000" stroke-width="2.7" />
<line x1="1242.5" y1="1949.7" x2="1257.5" y2="1949.7" stroke="#000" stroke-width="2.7" />
<text x="0" y="0" font-size="31.20" font-weight="400" fill="#000" font-family="'Liberation Sans', sans-serif" transform="translate(188.76 1958.74) scale(1.0000 1)">5</text>
<line x1="225.4" y1="1926.8" x2="233.4" y2="1926.8" stroke="#000" stroke-width="2.7" />
<line x1="1250.0" y1="1926.8" x2="1257.5" y2="1926.8" stroke="#000" stroke-width="2.7" />
<line x1="217.4" y1="1903.9" x2="233.4" y2="1903.9" stroke="#000" stroke-width="2.7" />
<line x1="1242.5" y1="1903.9" x2="1257.5" y2="1903.9" stroke="#000" stroke-width="2.7" />
<text x="0" y="0" font-size="31.20" font-weight="400" fill="#000" font-family="'Liberation Sans', sans-serif" transform="translate(171.31 1912.89) scale(1.0000 1)">10</text>
<line x1="225.4" y1="1881.0" x2="233.4" y2="1881.0" stroke="#000" stroke-width="2.7" />
<line x1="1250.0" y1="1881.0" x2="1257.5" y2="1881.0" stroke="#000" stroke-width="2.7" />
<line x1="217.4" y1="1858.0" x2="233.4" y2="1858.0" stroke="#000" stroke-width="2.7" />
<line x1="1242.5" y1="1858.0" x2="1257.5" y2="1858.0" stroke="#000" stroke-width="2.7" />
<text x="0" y="0" font-size="31.20" font-weight="400" fill="#000" font-family="'Liberation Sans', sans-serif" transform="translate(171.41 1867.03) scale(1.0000 1)">15</text>
<line x1="225.4" y1="1835.1" x2="233.4" y2="1835.1" stroke="#000" stroke-width="2.7" />
<line x1="1250.0" y1="1835.1" x2="1257.5" y2="1835.1" stroke="#000" stroke-width="2.7" />
<line x1="217.4" y1="1812.2" x2="233.4" y2="1812.2" stroke="#000" stroke-width="2.7" />
<line x1="1242.5" y1="1812.2" x2="1257.5" y2="1812.2" stroke="#000" stroke-width="2.7" />
<text x="0" y="0" font-size="31.20" font-weight="400" fill="#000" font-family="'Liberation Sans', sans-serif" transform="translate(171.31 1821.18) scale(1.0000 1)">20</text>
<line x1="225.4" y1="1789.2" x2="233.4" y2="1789.2" stroke="#000" stroke-width="2.7" />
<line x1="1250.0" y1="1789.2" x2="1257.5" y2="1789.2" stroke="#000" stroke-width="2.7" />
<line x1="217.4" y1="1766.3" x2="233.4" y2="1766.3" stroke="#000" stroke-width="2.7" />
<line x1="1242.5" y1="1766.3" x2="1257.5" y2="1766.3" stroke="#000" stroke-width="2.7" />
<text x="0" y="0" font-size="31.20" font-weight="400" fill="#000" font-family="'Liberation Sans', sans-serif" transform="translate(171.41 1775.32) scale(1.0000 1)">25</text>
<line x1="225.4" y1="1743.4" x2="233.4" y2="1743.4" stroke="#000" stroke-width="2.7" />
<line x1="1250.0" y1="1743.4" x2="1257.5" y2="1743.4" stroke="#000" stroke-width="2.7" />
<line x1="217.4" y1="1720.5" x2="233.4" y2="1720.5" stroke="#000" stroke-width="2.7" />
<line x1="1242.5" y1="1720.5" x2="1257.5" y2="1720.5" stroke="#000" stroke-width="2.7" />
<text x="0" y="0" font-size="31.20" font-weight="400" fill="#000" font-family="'Liberation Sans', sans-serif" transform="translate(171.31 1729.47) scale(1.0000 1)">30</text>
<line x1="225.4" y1="1697.5" x2="233.4" y2="1697.5" stroke="#000" stroke-width="2.7" />
<line x1="1250.0" y1="1697.5" x2="1257.5" y2="1697.5" stroke="#000" stroke-width="2.7" />
<line x1="217.4" y1="1674.6" x2="233.4" y2="1674.6" stroke="#000" stroke-width="2.7" />
<line x1="1242.5" y1="1674.6" x2="1257.5" y2="1674.6" stroke="#000" stroke-width="2.7" />
<text x="0" y="0" font-size="31.20" font-weight="400" fill="#000" font-family="'Liberation Sans', sans-serif" transform="translate(171.41 1683.61) scale(1.0000 1)">35</text>
<line x1="225.4" y1="1651.7" x2="233.4" y2="1651.7" stroke="#000" stroke-width="2.7" />
<line x1="1250.0" y1="1651.7" x2="1257.5" y2="1651.7" stroke="#000" stroke-width="2.7" />
<line x1="217.4" y1="1628.8" x2="233.4" y2="1628.8" stroke="#000" stroke-width="2.7" />
<line x1="1242.5" y1="1628.8" x2="1257.5" y2="1628.8" stroke="#000" stroke-width="2.7" />
<text x="0" y="0" font-size="31.20" font-weight="400" fill="#000" font-family="'Liberation Sans', sans-serif" transform="translate(171.31 1637.76) scale(1.0000 1)">40</text>
<line x1="225.4" y1="1605.8" x2="233.4" y2="1605.8" stroke="#000" stroke-width="2.7" />
<line x1="1250.0" y1="1605.8" x2="1257.5" y2="1605.8" stroke="#000" stroke-width="2.7" />
<line x1="217.4" y1="1582.9" x2="233.4" y2="1582.9" stroke="#000" stroke-width="2.7" />
<line x1="1242.5" y1="1582.9" x2="1257.5" y2="1582.9" stroke="#000" stroke-width="2.7" />
<text x="0" y="0" font-size="31.20" font-weight="400" fill="#000" font-family="'Liberation Sans', sans-serif" transform="translate(171.41 1591.90) scale(1.0000 1)">45</text>
<line x1="225.4" y1="1560.0" x2="233.4" y2="1560.0" stroke="#000" stroke-width="2.7" />
<line x1="1250.0" y1="1560.0" x2="1257.5" y2="1560.0" stroke="#000" stroke-width="2.7" />
<line x1="217.4" y1="1537.0" x2="233.4" y2="1537.0" stroke="#000" stroke-width="2.7" />
<line x1="1242.5" y1="1537.0" x2="1257.5" y2="1537.0" stroke="#000" stroke-width="2.7" />
<text x="0" y="0" font-size="31.20" font-weight="400" fill="#000" font-family="'Liberation Sans', sans-serif" transform="translate(171.31 1546.04) scale(1.0000 1)">50</text>
<line x1="225.4" y1="1514.1" x2="233.4" y2="1514.1" stroke="#000" stroke-width="2.7" />
<line x1="1250.0" y1="1514.1" x2="1257.5" y2="1514.1" stroke="#000" stroke-width="2.7" />
<line x1="217.4" y1="1491.2" x2="233.4" y2="1491.2" stroke="#000" stroke-width="2.7" />
<line x1="1242.5" y1="1491.2" x2="1257.5" y2="1491.2" stroke="#000" stroke-width="2.7" />
<text x="0" y="0" font-size="31.20" font-weight="400" fill="#000" font-family="'Liberation Sans', sans-serif" transform="translate(171.41 1500.19) scale(1.0000 1)">55</text>
<line x1="225.4" y1="1468.3" x2="233.4" y2="1468.3" stroke="#000" stroke-width="2.7" />
<line x1="1250.0" y1="1468.3" x2="1257.5" y2="1468.3" stroke="#000" stroke-width="2.7" />
<line x1="217.4" y1="1445.3" x2="233.4" y2="1445.3" stroke="#000" stroke-width="2.7" />
<line x1="1242.5" y1="1445.3" x2="1257.5" y2="1445.3" stroke="#000" stroke-width="2.7" />
<text x="0" y="0" font-size="31.20" font-weight="400" fill="#000" font-family="'Liberation Sans', sans-serif" transform="translate(171.31 1454.33) scale(1.0000 1)">60</text>
<line x1="225.4" y1="1422.4" x2="233.4" y2="1422.4" stroke="#000" stroke-width="2.7" />
<line x1="1250.0" y1="1422.4" x2="1257.5" y2="1422.4" stroke="#000" stroke-width="2.7" />
<line x1="217.4" y1="1399.5" x2="233.4" y2="1399.5" stroke="#000" stroke-width="2.7" />
<line x1="1242.5" y1="1399.5" x2="1257.5" y2="1399.5" stroke="#000" stroke-width="2.7" />
<text x="0" y="0" font-size="31.20" font-weight="400" fill="#000" font-family="'Liberation Sans', sans-serif" transform="translate(171.41 1408.48) scale(1.0000 1)">65</text>
<line x1="225.4" y1="1376.6" x2="233.4" y2="1376.6" stroke="#000" stroke-width="2.7" />
<line x1="1250.0" y1="1376.6" x2="1257.5" y2="1376.6" stroke="#000" stroke-width="2.7" />
<line x1="217.4" y1="1353.6" x2="233.4" y2="1353.6" stroke="#000" stroke-width="2.7" />
<line x1="1242.5" y1="1353.6" x2="1257.5" y2="1353.6" stroke="#000" stroke-width="2.7" />
<text x="0" y="0" font-size="31.20" font-weight="400" fill="#000" font-family="'Liberation Sans', sans-serif" transform="translate(171.31 1362.62) scale(1.0000 1)">70</text>
<line x1="225.4" y1="1330.7" x2="233.4" y2="1330.7" stroke="#000" stroke-width="2.7" />
<line x1="1250.0" y1="1330.7" x2="1257.5" y2="1330.7" stroke="#000" stroke-width="2.7" />
<line x1="217.4" y1="1307.8" x2="233.4" y2="1307.8" stroke="#000" stroke-width="2.7" />
<line x1="1242.5" y1="1307.8" x2="1257.5" y2="1307.8" stroke="#000" stroke-width="2.7" />
<text x="0" y="0" font-size="31.20" font-weight="400" fill="#000" font-family="'Liberation Sans', sans-serif" transform="translate(171.41 1316.77) scale(1.0000 1)">75</text>
<line x1="225.4" y1="1284.8" x2="233.4" y2="1284.8" stroke="#000" stroke-width="2.7" />
<line x1="1250.0" y1="1284.8" x2="1257.5" y2="1284.8" stroke="#000" stroke-width="2.7" />
<line x1="217.4" y1="1261.9" x2="233.4" y2="1261.9" stroke="#000" stroke-width="2.7" />
<line x1="1242.5" y1="1261.9" x2="1257.5" y2="1261.9" stroke="#000" stroke-width="2.7" />
<text x="0" y="0" font-size="31.20" font-weight="400" fill="#000" font-family="'Liberation Sans', sans-serif" transform="translate(171.31 1270.91) scale(1.0000 1)">80</text>
<line x1="225.4" y1="1239.0" x2="233.4" y2="1239.0" stroke="#000" stroke-width="2.7" />
<line x1="1250.0" y1="1239.0" x2="1257.5" y2="1239.0" stroke="#000" stroke-width="2.7" />
<line x1="217.4" y1="1216.1" x2="233.4" y2="1216.1" stroke="#000" stroke-width="2.7" />
<line x1="1242.5" y1="1216.1" x2="1257.5" y2="1216.1" stroke="#000" stroke-width="2.7" />
<text x="0" y="0" font-size="31.20" font-weight="400" fill="#000" font-family="'Liberation Sans', sans-serif" transform="translate(171.41 1225.06) scale(1.0000 1)">85</text>
<line x1="225.4" y1="1193.1" x2="233.4" y2="1193.1" stroke="#000" stroke-width="2.7" />
<line x1="1250.0" y1="1193.1" x2="1257.5" y2="1193.1" stroke="#000" stroke-width="2.7" />
<line x1="217.4" y1="1170.2" x2="233.4" y2="1170.2" stroke="#000" stroke-width="2.7" />
<line x1="1242.5" y1="1170.2" x2="1257.5" y2="1170.2" stroke="#000" stroke-width="2.7" />
<text x="0" y="0" font-size="31.20" font-weight="400" fill="#000" font-family="'Liberation Sans', sans-serif" transform="translate(171.31 1179.20) scale(1.0000 1)">90</text>
<line x1="262.5" y1="1995.6" x2="262.5" y2="2010.6" stroke="#000" stroke-width="2.7" />
<line x1="262.5" y1="1170.2" x2="262.5" y2="1185.2" stroke="#000" stroke-width="2.7" />
<text x="0" y="0" font-size="31.20" font-weight="400" fill="#000" font-family="'Liberation Sans', sans-serif" transform="translate(254.32 2046.60) scale(1.0000 1)">0</text>
<line x1="383.8" y1="1995.6" x2="383.8" y2="2003.1" stroke="#000" stroke-width="2.7" />
<line x1="383.8" y1="1170.2" x2="383.8" y2="1177.7" stroke="#000" stroke-width="2.7" />
<line x1="505.2" y1="1995.6" x2="505.2" y2="2010.6" stroke="#000" stroke-width="2.7" />
<line x1="505.2" y1="1170.2" x2="505.2" y2="1185.2" stroke="#000" stroke-width="2.7" />
<text x="0" y="0" font-size="31.20" font-weight="400" fill="#000" font-family="'Liberation Sans', sans-serif" transform="translate(479.64 2046.60) scale(1.0000 1)">500</text>
<line x1="626.5" y1="1995.6" x2="626.5" y2="2003.1" stroke="#000" stroke-width="2.7" />
<line x1="626.5" y1="1170.2" x2="626.5" y2="1177.7" stroke="#000" stroke-width="2.7" />
<line x1="747.9" y1="1995.6" x2="747.9" y2="2010.6" stroke="#000" stroke-width="2.7" />
<line x1="747.9" y1="1170.2" x2="747.9" y2="1185.2" stroke="#000" stroke-width="2.7" />
<text x="0" y="0" font-size="31.20" font-weight="400" fill="#000" font-family="'Liberation Sans', sans-serif" transform="translate(713.08 2046.60) scale(1.0000 1)">1000</text>
<line x1="869.2" y1="1995.6" x2="869.2" y2="2003.1" stroke="#000" stroke-width="2.7" />
<line x1="869.2" y1="1170.2" x2="869.2" y2="1177.7" stroke="#000" stroke-width="2.7" />
<line x1="990.5" y1="1995.6" x2="990.5" y2="2010.6" stroke="#000" stroke-width="2.7" />
<line x1="990.5" y1="1170.2" x2="990.5" y2="1185.2" stroke="#000" stroke-width="2.7" />
<text x="0" y="0" font-size="31.20" font-weight="400" fill="#000" font-family="'Liberation Sans', sans-serif" transform="translate(955.76 2046.60) scale(1.0000 1)">1500</text>
<line x1="1111.9" y1="1995.6" x2="1111.9" y2="2003.1" stroke="#000" stroke-width="2.7" />
<line x1="1111.9" y1="1170.2" x2="1111.9" y2="1177.7" stroke="#000" stroke-width="2.7" />
<line x1="1233.2" y1="1995.6" x2="1233.2" y2="2010.6" stroke="#000" stroke-width="2.7" />
<text x="0" y="0" font-size="31.20" font-weight="400" fill="#000" font-family="'Liberation Sans', sans-serif" transform="translate(1198.84 2046.60) scale(1.0000 1)">2000</text>
<text x="0" y="0" font-size="43.46" font-weight="400" fill="#000" font-family="'Liberation Sans', sans-serif" transform="translate(617.24 2115.30) scale(0.9980 1)">Position (μm)</text>
<text x="0" y="0" font-size="43.46" font-weight="400" fill="#000" font-family="'Liberation Sans', sans-serif" transform="translate(120.30 1799.48) rotate(-90) scale(0.9422 1)">Atomic concentration (at. %)</text>
<rect x="1197.1" y="1071.6" width="211" height="244.7" fill="#fff" stroke="#333" stroke-width="1.2"/>
<line x1="1202.0" y1="1098.3" x2="1289.0" y2="1098.3" stroke="#1a1a1a" stroke-width="1.3" />
<rect x="1236.85" y="1089.45" width="17.7" height="17.7" fill="#000"/>
<text x="0" y="0" font-size="38.95" font-weight="400" fill="#000" font-family="'Liberation Sans', sans-serif" transform="translate(1299.62 1111.40) scale(1.0012 1)">C 1s</text>
<line x1="1202.0" y1="1146.1" x2="1289.0" y2="1146.1" stroke="#e03a3a" stroke-width="1.3" />
<circle cx="1245.70" cy="1146.15" r="10.1" fill="#ff0000"/>
<text x="0" y="0" font-size="38.95" font-weight="400" fill="#000" font-family="'Liberation Sans', sans-serif" transform="translate(1298.40 1159.25) scale(1.0012 1)">N 1s</text>
<line x1="1202.0" y1="1194.0" x2="1289.0" y2="1194.0" stroke="#ee9448" stroke-width="1.3" />
<path d="M1245.70,1180.20 L1257.65,1200.90 L1233.75,1200.90 Z" fill="#ed872d"/>
<text x="0" y="0" font-size="38.95" font-weight="400" fill="#000" font-family="'Liberation Sans', sans-serif" transform="translate(1299.62 1207.10) scale(1.0012 1)">Ca 2p</text>
<line x1="1202.0" y1="1241.8" x2="1289.0" y2="1241.8" stroke="#2828e8" stroke-width="1.3" />
<path d="M1233.75,1234.92 L1257.65,1234.92 L1245.70,1255.72 Z" fill="#0000ff"/>
<text x="0" y="0" font-size="38.95" font-weight="400" fill="#000" font-family="'Liberation Sans', sans-serif" transform="translate(1299.75 1254.95) scale(1.0012 1)">O 1s</text>
<line x1="1202.0" y1="1289.7" x2="1289.0" y2="1289.7" stroke="#2a9494" stroke-width="1.3" />
<path d="M1245.70,1277.35 L1257.85,1289.70 L1245.70,1302.05 L1233.55,1289.70 Z" fill="#008080"/>
<text x="0" y="0" font-size="38.95" font-weight="400" fill="#000" font-family="'Liberation Sans', sans-serif" transform="translate(1298.40 1302.80) scale(1.0012 1)">P 2p</text>
</svg></body></html>
